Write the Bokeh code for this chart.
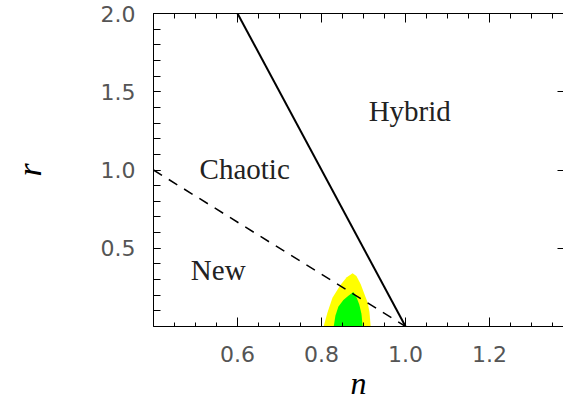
import numpy as np
from bokeh.plotting import figure
from bokeh.models import LinearAxis, FixedTicker, PrintfTickFormatter, CustomJSTickFormatter
from bokeh.core.properties import value
from bokeh.embed import file_html
from bokeh.resources import INLINE

# ---- data ----
x_major = [0.6, 0.8, 1.0, 1.2]
y_major = [0.5, 1.0, 1.5, 2.0]

solid_n = [0.6, 1.0]
solid_r = [2.0, 0.0]

dashed_n = [0.4, 1.0]
dashed_r = [1.0, 0.0]

yellow_n = [0.805, 0.814, 0.826, 0.845, 0.860, 0.874, 0.883, 0.893, 0.902, 0.910, 0.914, 0.917]
yellow_r = [0.0, 0.088, 0.183, 0.265, 0.315, 0.341, 0.322, 0.271, 0.208, 0.151, 0.095, 0.0]

green_n = [0.829, 0.833, 0.840, 0.852, 0.864, 0.876, 0.883, 0.890, 0.895, 0.898]
green_r = [0.0, 0.069, 0.126, 0.170, 0.196, 0.221, 0.189, 0.139, 0.082, 0.0]

region_names = ["Hybrid", "Chaotic", "New"]
region_n = [1.01, 0.617, 0.554]
region_r = [1.38, 1.005, 0.36]

x_minor = list(np.round(np.arange(0.4, 1.38, 0.05), 3))
y_minor = list(np.round(np.arange(0.0, 2.01, 0.1), 3))

p = figure(width=563, height=403, x_range=(0.4, 1.376), y_range=(0.0, 2.0),
           output_backend="svg", toolbar_location=None,
           min_border_left=153, min_border_right=0, min_border_top=13, min_border_bottom=76,
           x_axis_location=None, y_axis_location=None)
p.outline_line_color = None
p.xgrid.visible = False
p.ygrid.visible = False
p.background_fill_color = "white"
p.border_fill_color = "white"

lab_font = "DejaVu Sans"
lab_color = "#555555"
empty = CustomJSTickFormatter(code="return ''")

# bottom axis
bx = LinearAxis(ticker=FixedTicker(ticks=x_major, minor_ticks=x_minor),
                formatter=PrintfTickFormatter(format="%.1f"), axis_label="n")
bx.major_tick_in = 9
bx.major_tick_out = 0
bx.minor_tick_in = 4
bx.minor_tick_out = 0
bx.major_label_standoff = 19
bx.major_label_text_font = lab_font
bx.major_label_text_font_size = "22px"
bx.major_label_text_color = lab_color
bx.axis_line_color = "black"
bx.axis_label_standoff = 0
bx.axis_label_text_font = "Liberation Serif"
bx.axis_label_text_font_style = "italic"
bx.axis_label_text_font_size = "32px"
bx.axis_label_text_color = "black"
p.add_layout(bx, "below")

# left axis
ly = LinearAxis(ticker=FixedTicker(ticks=y_major, minor_ticks=y_minor),
                formatter=PrintfTickFormatter(format="%.1f"), axis_label="r")
ly.major_tick_in = 7
ly.major_tick_out = 0
ly.minor_tick_in = 7
ly.minor_tick_out = 0
ly.major_label_standoff = 18
ly.major_label_text_font = lab_font
ly.major_label_text_font_size = "22px"
ly.major_label_text_color = lab_color
ly.axis_line_color = "black"
ly.axis_label_standoff = 50
ly.axis_label_text_font = "Liberation Serif"
ly.axis_label_text_font_style = "italic"
ly.axis_label_text_font_size = "34px"
ly.axis_label_text_color = "black"
p.add_layout(ly, "left")

# top axis (ticks only)
tx = LinearAxis(ticker=FixedTicker(ticks=x_major, minor_ticks=x_minor), formatter=empty)
tx.major_tick_in = 9
tx.major_tick_out = 0
tx.minor_tick_in = 5
tx.minor_tick_out = 0
tx.major_label_text_font_size = "6px"
tx.major_label_standoff = 0
tx.axis_line_color = "black"
p.add_layout(tx, "above")

# right axis (major ticks only, no line)
ry = LinearAxis(ticker=FixedTicker(ticks=y_major[:-1], minor_ticks=[]), formatter=empty)
ry.major_tick_in = 6
ry.major_tick_out = 0
ry.minor_tick_in = 0
ry.minor_tick_out = 0
ry.major_label_text_font_size = "6px"
ry.major_label_standoff = 0
ry.axis_line_color = None
ry.major_tick_line_color = "black"
p.add_layout(ry, "right")

# contours
p.patch(yellow_n, yellow_r, fill_color="#ffff00", line_color=None)
p.patch(green_n, green_r, fill_color="#00ff00", line_color=None)

# boundaries
p.line(dashed_n, dashed_r, line_color="black", line_width=1.5, line_dash="10 8")
p.line(solid_n, solid_r, line_color="black", line_width=2)

# region names
p.text(x=region_n, y=region_r, text=region_names, text_font=value("Liberation Serif"),
       text_font_size="29px", text_color="#222222", text_align="center",
       text_baseline="alphabetic")

open("out.html", "w").write(file_html(p, INLINE))
